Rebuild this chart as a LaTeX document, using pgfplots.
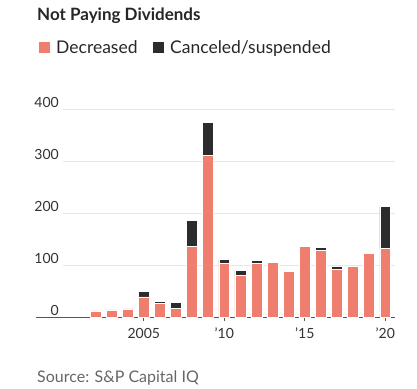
\documentclass[border=0pt]{standalone}
\usepackage{pgfplots}
\pgfplotsset{compat=1.18}
\usepackage{pgfplotstable}
\usepackage{fontspec}
\setmainfont{Lato}
\definecolor{salmon}{HTML}{F07E6E}
\definecolor{darkbar}{HTML}{2A2C2E}
\definecolor{gridc}{HTML}{E6E6E6}
\definecolor{axisc}{HTML}{555555}
\definecolor{tickc}{HTML}{333333}
\definecolor{srcc}{HTML}{666666}
\pgfplotstableread{
year dec canc
2002 13 0
2003 15 0
2004 17 0
2005 40 10
2006 27 4
2007 18 12
2008 137 51
2009 312 64
2010 105 7
2011 81 10
2012 105 5
2013 107 0
2014 89 0
2015 137 3
2016 130 5
2017 93 5
2018 99 0
2019 124 0
2020 134 80
}\datatable
\begin{document}
\begin{tikzpicture}[x=1bp,y=1bp]
\useasboundingbox (0,0) rectangle (417,389);
% gridlines (drawn beneath the axis)
\foreach \yy in {123.225,175.15,227.075,279.0} {
  \draw[gridc, line width=1bp] (63,\yy) -- (395,\yy);
}
\begin{axis}[
  at={(36bp,71.3bp)}, anchor=south west,
  scale only axis, width=359bp, height=207.7bp,
  xmin=1998.3, xmax=2020.6, ymin=0, ymax=400,
  ybar stacked, bar width=0.68,
  axis x line*=bottom, axis y line*=left,
  axis line style={axisc, line width=1bp},
  x axis line style={-},
  y axis line style={draw=none},
  /pgf/number format/assume math mode=true,
  xtick={2005,2010,2015,2020},
  xticklabels={2005,’10,’15,’20},
  xtick style={axisc, line width=0.8bp},
  tick align=outside, major tick length=3bp,
  xticklabel style={font=\fontsize{14bp}{16bp}\selectfont, text=tickc, inner sep=0pt, anchor=north, yshift=-7bp},
  ytick={0,100,200,300,400},
  yticklabel style={font=\fontsize{14bp}{16bp}\selectfont, text=tickc, inner sep=0pt, anchor=base east, xshift=26bp, yshift=2.5bp},
  ytick style={draw=none},
  clip=false,
]
\addplot[fill=salmon, draw=white, line width=0.7bp] table[x=year, y=dec] {\datatable};
\addplot[fill=darkbar, draw=white, line width=0.7bp] table[x=year, y=canc] {\datatable};
\end{axis}
% title
\node[anchor=base west, inner sep=0pt, font=\bfseries\fontsize{17bp}{20bp}\selectfont, text=black!85] at (37,368.3) {Not Paying Dividends};
% legend
\fill[salmon] (39,336.3) rectangle (50,347.3);
\node[anchor=base west, inner sep=0pt, font=\fontsize{17.5bp}{20bp}\selectfont, text=black!85] at (56,335.7) {Decreased};
\fill[darkbar] (152.7,336.3) rectangle (164.3,347.3);
\node[anchor=base west, inner sep=0pt, font=\fontsize{17.5bp}{20bp}\selectfont, text=black!85] at (170,335.7) {Canceled/suspended};
% source
\node[anchor=base west, inner sep=0pt, font=\fontsize{16bp}{18bp}\selectfont, text=srcc] at (37,6.3) {Source: S\&P Capital IQ};
\end{tikzpicture}
\end{document}
